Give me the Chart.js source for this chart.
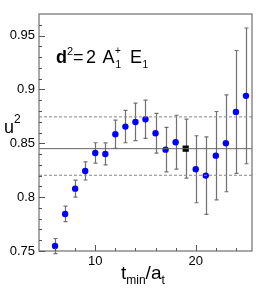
<!DOCTYPE html>
<html><head><meta charset="utf-8">
<script src="https://cdn.jsdelivr.net/npm/chart.js@4.4.1/dist/chart.umd.min.js"></script>
<style>html,body{margin:0;padding:0;background:#fff;overflow:hidden}#wrap{width:266px;height:297px;position:relative}</style>
</head><body><div id="wrap"><canvas id="c"></canvas></div>
<script>
// ---- data ----
const tmin = [6,7,8,9,10,11,12,13,14,15,16,17,18,20,21,22,23,24,25];
const u2 = [0.7546,0.7844,0.8079,0.8243,0.8410,0.8401,0.8584,0.8655,0.8698,0.8723,0.8593,0.8441,0.8510,0.8259,0.8200,0.8385,0.8500,0.8791,0.8940];
const u2Err = [0.0070,0.0072,0.0079,0.0084,0.0095,0.0102,0.0130,0.0150,0.0174,0.0177,0.0184,0.0206,0.0250,0.0311,0.0360,0.0410,0.0450,0.0570,0.0630];
const chosenT = [19];
const chosenU2 = [0.8450];
const chosenErr = [0.0274];
const fitCentral = [0.8450];
const fitUpper = [0.8745];
const fitLower = [0.8203];
const xRange = [4.4, 25.6];
const yRange = [0.75, 0.97];
const xTickLabels = [10, 20];
const yTickLabels = [0.75, 0.80, 0.85, 0.90, 0.95];

const FONT = '"Liberation Sans", Arial, sans-serif';
const pts = tmin.map((t,i)=>({x:t,y:u2[i],e:u2Err[i]}));
const chosen = chosenT.map((t,i)=>({x:t,y:chosenU2[i],e:chosenErr[i]}));
const hline = v => [{x:xRange[0],y:v},{x:xRange[1],y:v}];

const decor = {
  id:'decor',
  beforeDatasetsDraw(chart){
    const {ctx, scales:{x,y}} = chart;
    ctx.save();
    ctx.strokeStyle = '#707070';
    ctx.lineWidth = 1.2;
    [chart.data.datasets[3], chart.data.datasets[4]].forEach(ds=>{
      ds.data.forEach(p=>{
        const px = Math.round(x.getPixelForValue(p.x))+0.5;
        const top = y.getPixelForValue(p.y+p.e), bot = y.getPixelForValue(p.y-p.e);
        ctx.beginPath();
        ctx.moveTo(px, top); ctx.lineTo(px, bot);
        ctx.moveTo(px-2, top); ctx.lineTo(px+2, top);
        ctx.moveTo(px-2, bot); ctx.lineTo(px+2, bot);
        ctx.stroke();
      });
    });
    ctx.restore();
  },
  afterDraw(chart){
    const {ctx, chartArea:a, scales:{x,y}} = chart;
    ctx.save();
    // frame
    ctx.strokeStyle = '#7a7a7a';
    ctx.lineWidth = 1.3;
    ctx.strokeRect(a.left, a.top, a.right-a.left, a.bottom-a.top);
    // inner ticks
    ctx.strokeStyle = '#555';
    ctx.lineWidth = 1;
    ctx.beginPath();
    for (let k=6;k<=25;k+=2){
      const px = Math.round(x.getPixelForValue(k))+0.5;
      const len = xTickLabels.includes(k) ? 6 : 3;
      ctx.moveTo(px, a.bottom); ctx.lineTo(px, a.bottom-len);
    }
    for (let k=75;k<=96;k++){
      const py = Math.round(y.getPixelForValue(k/100))+0.5;
      const len = (k%5===0) ? 6 : 3;
      ctx.moveTo(a.left, py); ctx.lineTo(a.left+len, py);
    }
    ctx.stroke();
    // axis titles
    ctx.fillStyle = '#000';
    ctx.textBaseline = 'alphabetic';
    ctx.textAlign = 'left';
    ctx.font = '18px '+FONT;
    ctx.fillText('u', 4, 133);
    ctx.font = '12px '+FONT;
    ctx.fillText('2', 14, 123);
    // x title t_min/a_t
    ctx.font = '19px '+FONT;
    let cx = 121;
    ctx.fillText('t', cx, 279); cx += ctx.measureText('t').width;
    ctx.font = '12px '+FONT;
    ctx.fillText('min', cx, 284); cx += ctx.measureText('min').width;
    ctx.font = '19px '+FONT;
    ctx.fillText('/a', cx, 279); cx += ctx.measureText('/a').width;
    ctx.font = '12px '+FONT;
    ctx.fillText('t', cx, 284);
    // label d^2=2 A1+ E1
    ctx.font = 'bold 18px '+FONT;
    ctx.fillText('d', 56, 63);
    ctx.font = '11px '+FONT;
    ctx.fillText('2', 67, 55);
    ctx.font = '18px '+FONT;
    ctx.fillText('=', 73, 63);
    ctx.fillText('2', 86, 63);
    ctx.fillText('A', 102.5, 63);
    ctx.font = '10px '+FONT;
    ctx.fillText('+', 115, 54);
    ctx.fillText('1', 115.5, 68);
    ctx.font = '18px '+FONT;
    ctx.fillText('E', 130, 63);
    ctx.font = '10px '+FONT;
    ctx.fillText('1', 142.5, 68);
    ctx.restore();
  }
};

new Chart(document.getElementById('c'), {
  type:'scatter',
  data:{datasets:[
    {type:'line', data:hline(fitCentral[0]), borderColor:'#666', borderWidth:1, pointRadius:0, fill:false},
    {type:'line', data:hline(fitUpper[0]), borderColor:'#888', borderWidth:1, borderDash:[3,2], pointRadius:0, fill:false},
    {type:'line', data:hline(fitLower[0]), borderColor:'#888', borderWidth:1, borderDash:[3,2], pointRadius:0, fill:false},
    {data:pts, backgroundColor:'#0000ff', borderColor:'#0000ff', pointRadius:3.2, pointBorderWidth:0},
    {data:chosen, backgroundColor:'#000', borderColor:'#000', pointStyle:'rect', pointRadius:4.4, pointBorderWidth:0}
  ]},
  options:{
    responsive:true, maintainAspectRatio:false, animation:false,
    layout:{padding:{top:14,right:14,left:0,bottom:0}},
    plugins:{legend:{display:false}, tooltip:{enabled:false}},
    scales:{
      x:{type:'linear', min:xRange[0], max:xRange[1],
        grid:{display:false, drawTicks:false}, border:{display:false},
        afterBuildTicks(s){ s.ticks = xTickLabels.map(v=>({value:v})); },
        afterFit(s){ s.height = 46; },
        ticks:{padding:3, color:'#000', font:{family:FONT, size:13}, maxRotation:0, callback:v=>String(v)}},
      y:{type:'linear', min:yRange[0], max:yRange[1],
        grid:{display:false, drawTicks:false}, border:{display:false},
        afterBuildTicks(s){ s.ticks = yTickLabels.map(v=>({value:v})); },
        afterFit(s){ s.width = 39; },
        ticks:{padding:4, color:'#000', font:{family:FONT, size:13}, callback:v=>String(+v.toFixed(2))}}
    }
  },
  plugins:[decor]
});
</script>
</body></html>
